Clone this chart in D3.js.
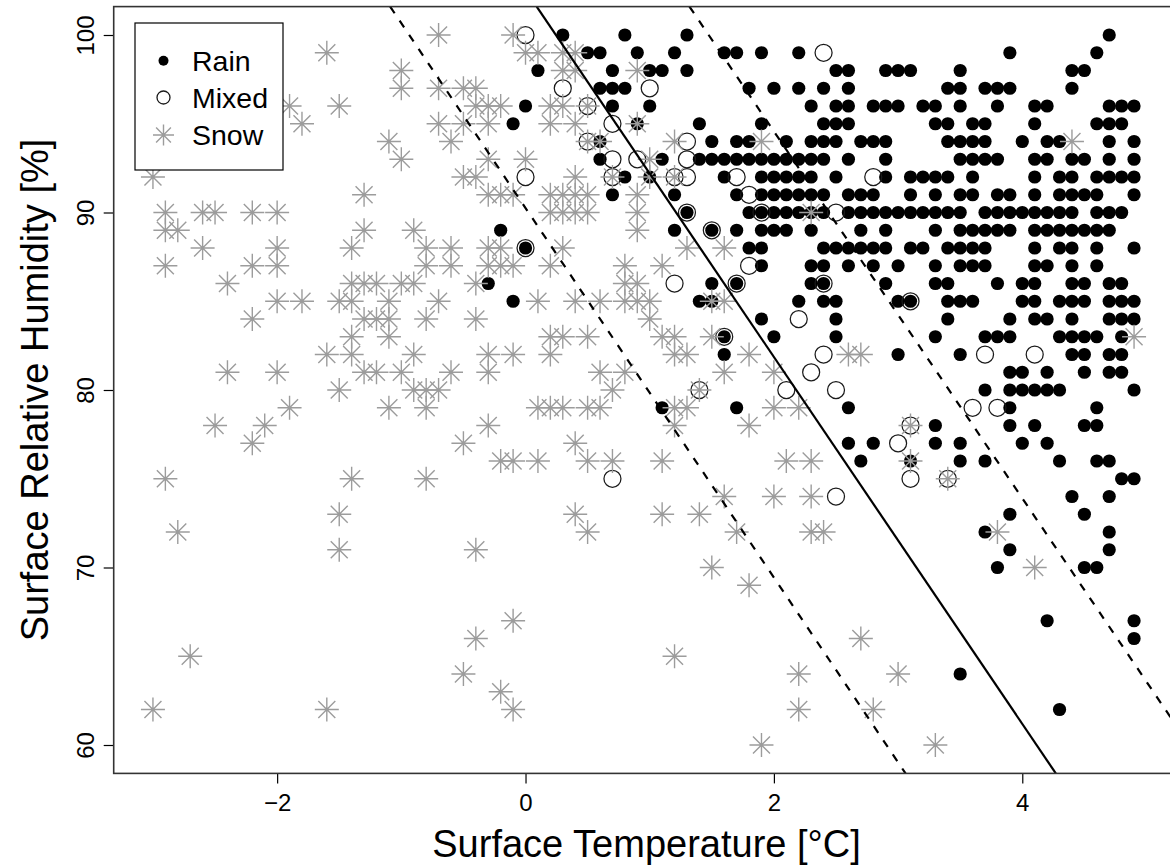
<!DOCTYPE html>
<html>
<head>
<meta charset="utf-8">
<script src="https://cdn.jsdelivr.net/npm/d3@7"></script>
<style>
  html, body { margin: 0; padding: 0; background: #fff; }
  svg { display: block; font-family: "Liberation Sans", Arial, sans-serif; }
</style>
</head>
<body>
<svg id="chart" width="1170" height="867"></svg>
<script>
// ---------------- data (RH row, temperatures at that RH) ----------------
const xTicks = [-2, 0, 2, 4];
const yTicks = [60, 70, 80, 90, 100];
const categories = ["Rain", "Mixed", "Snow"];

const rainRows = [
  [100, [0.3, 0.8, 1.3, 4.7]],
  [99, [0.5, 0.6, 0.9, 1.2, 1.6, 1.7, 1.9, 2.2, 3.9, 4.6]],
  [98, [0.1, 0.7, 1.0, 1.1, 1.3, 2.5, 2.6, 2.9, 3.0, 3.1, 3.5, 4.4, 4.5]],
  [97, [0.6, 0.7, 0.8, 1.8, 2.0, 2.2, 2.4, 2.6, 3.4, 3.5, 3.7, 3.8, 3.9, 4.4]],
  [96, [0.0, 0.7, 1.0, 2.3, 2.5, 2.6, 2.8, 2.9, 3.0, 3.2, 3.3, 3.5, 3.8, 4.1, 4.2, 4.7, 4.8, 4.9]],
  [95, [-0.1, 0.9, 1.4, 1.9, 2.4, 2.5, 2.6, 3.3, 3.4, 3.6, 3.7, 4.1, 4.6, 4.7, 4.8]],
  [94, [0.6, 1.5, 1.7, 1.8, 2.1, 2.3, 2.4, 2.5, 2.7, 2.8, 2.9, 3.4, 3.5, 3.6, 3.7, 4.0, 4.2, 4.3, 4.7, 4.9]],
  [93, [0.6, 1.1, 1.4, 1.5, 1.6, 1.7, 1.8, 1.9, 2.0, 2.1, 2.2, 2.3, 2.4, 2.6, 2.9, 3.5, 3.6, 3.7, 3.8, 4.1, 4.2, 4.4, 4.5, 4.7, 4.9]],
  [92, [0.8, 1.0, 1.6, 1.9, 2.0, 2.1, 2.2, 2.3, 2.5, 2.9, 3.1, 3.2, 3.3, 3.4, 3.6, 4.1, 4.3, 4.4, 4.6, 4.7, 4.8, 4.9]],
  [91, [0.7, 1.2, 1.7, 1.9, 2.0, 2.1, 2.2, 2.3, 2.4, 2.6, 2.7, 2.8, 3.1, 3.3, 3.5, 3.6, 3.8, 3.9, 4.1, 4.3, 4.4, 4.5, 4.6, 4.9]],
  [90, [1.3, 1.8, 1.9, 2.0, 2.1, 2.2, 2.3, 2.4, 2.6, 2.7, 2.8, 2.9, 3.0, 3.1, 3.2, 3.3, 3.4, 3.5, 3.7, 3.8, 3.9, 4.0, 4.1, 4.2, 4.3, 4.4, 4.6, 4.7, 4.8]],
  [89, [-0.2, 1.2, 1.5, 1.7, 1.9, 2.0, 2.1, 2.3, 2.7, 2.9, 3.3, 3.5, 3.6, 3.7, 3.8, 3.9, 4.1, 4.2, 4.3, 4.4, 4.5, 4.6, 4.7]],
  [88, [0.0, 1.8, 1.9, 2.4, 2.5, 2.6, 2.7, 2.8, 2.9, 3.1, 3.2, 3.4, 3.5, 3.6, 3.7, 4.1, 4.3, 4.4, 4.6, 4.9]],
  [87, [1.9, 2.3, 2.4, 2.6, 2.8, 3.0, 3.3, 3.5, 3.6, 3.7, 4.1, 4.2, 4.4, 4.6]],
  [86, [-0.3, 1.5, 1.7, 2.3, 2.4, 2.9, 3.3, 3.4, 3.8, 4.0, 4.1, 4.4, 4.5, 4.7, 4.8]],
  [85, [-0.1, 1.4, 1.5, 2.2, 2.4, 2.5, 3.0, 3.1, 3.4, 3.5, 3.6, 4.0, 4.1, 4.3, 4.4, 4.5, 4.7, 4.8, 4.9]],
  [84, [1.9, 2.5, 3.4, 3.9, 4.1, 4.2, 4.4, 4.7, 4.8, 4.9]],
  [83, [1.6, 2.0, 2.5, 3.3, 3.7, 3.8, 3.9, 4.3, 4.4, 4.5, 4.6, 4.8]],
  [82, [1.6, 3.0, 3.5, 4.4, 4.5, 4.7, 4.8]],
  [81, [3.9, 4.0, 4.2, 4.5, 4.7, 4.8]],
  [80, [3.7, 3.9, 4.0, 4.1, 4.2, 4.3, 4.9]],
  [79, [1.1, 1.7, 2.6, 3.9, 4.6]],
  [78, [3.3, 3.9, 4.1, 4.5, 4.6]],
  [77, [2.6, 2.8, 3.3, 3.5, 4.0, 4.2]],
  [76, [2.7, 3.1, 3.5, 3.7, 4.3, 4.6, 4.7]],
  [75, [4.8, 4.9]],
  [74, [4.4, 4.7]],
  [73, [3.9, 4.5]],
  [72, [3.7, 4.7]],
  [71, [3.9, 4.7]],
  [70, [3.8, 4.5, 4.6]],
  [67, [4.2, 4.9]],
  [66, [4.9]],
  [64, [3.5]],
  [62, [4.3]]
];

const mixedRows = [
  [100, [0.0]],
  [99, [2.4]],
  [97, [0.3, 1.0]],
  [96, [0.5]],
  [95, [0.7]],
  [94, [0.5, 1.3]],
  [93, [0.7, 0.9, 1.3]],
  [92, [0.0, 0.7, 1.2, 1.3, 1.7, 2.8]],
  [91, [1.8]],
  [90, [1.3, 1.9, 2.5]],
  [89, [1.5]],
  [88, [0.0]],
  [87, [1.8]],
  [86, [1.2, 1.7, 2.4]],
  [85, [3.1]],
  [84, [2.2]],
  [83, [1.6]],
  [82, [2.4, 3.7, 4.1]],
  [81, [2.3]],
  [80, [1.4, 2.1, 2.5]],
  [79, [3.6, 3.8]],
  [78, [3.1]],
  [77, [3.0]],
  [75, [0.7, 3.1, 3.4]],
  [74, [2.5]]
];

const snowRows = [
  [100, [-0.7, -0.1]],
  [99, [-1.6, 0.0, 0.1, 0.3, 0.4]],
  [98, [-1.0, 0.3, 0.4, 0.9]],
  [97, [-1.0, -0.7, -0.5, -0.4]],
  [96, [-1.9, -1.5, -0.4, -0.3, -0.2, 0.2, 0.3, 0.5]],
  [95, [-1.8, -0.7, -0.5, -0.3, 0.2, 0.4, 0.9]],
  [94, [-1.1, -0.6, 0.5, 0.6, 1.2, 1.9, 4.4]],
  [93, [-1.0, -0.3, 0.0, 1.0]],
  [92, [-3.0, -0.5, -0.4, 0.4, 0.7, 1.0, 1.2]],
  [91, [-1.3, -0.3, -0.2, -0.1, 0.2, 0.3, 0.4, 0.5, 0.9]],
  [90, [-2.9, -2.6, -2.5, -2.2, -2.0, 0.2, 0.3, 0.4, 0.5, 0.9, 2.3]],
  [89, [-2.9, -2.8, -1.3, -0.9, 0.9]],
  [88, [-2.6, -2.0, -1.4, -0.8, -0.6, -0.3, -0.2, 0.3, 1.3, 1.6]],
  [87, [-2.9, -2.2, -2.0, -0.8, -0.6, -0.3, -0.2, -0.1, 0.2, 0.8, 1.1]],
  [86, [-2.4, -1.4, -1.3, -1.2, -1.0, -0.9, -0.4, 0.8, 0.9]],
  [85, [-2.0, -1.8, -1.5, -1.4, -1.1, -0.7, 0.1, 0.4, 0.6, 0.8, 0.9, 1.0, 1.5, 1.6]],
  [84, [-2.2, -1.3, -1.2, -1.1, -0.8, -0.4, 1.0]],
  [83, [-1.4, -1.1, 0.2, 0.3, 0.5, 1.1, 1.2, 1.5, 4.9]],
  [82, [-1.6, -1.4, -0.9, -0.3, -0.1, 0.2, 1.2, 1.3, 1.8, 2.6, 2.7]],
  [81, [-2.4, -2.0, -1.3, -1.2, -1.0, -0.6, -0.3, 0.6, 0.8, 1.6, 2.0]],
  [80, [-1.5, -0.9, -0.8, -0.7, 0.7, 1.4]],
  [79, [-1.9, -1.1, -0.8, 0.1, 0.2, 0.3, 0.5, 0.6, 1.2, 1.3, 2.0, 2.2]],
  [78, [-2.5, -2.1, -0.3, 1.2, 1.8, 3.1]],
  [77, [-2.2, -0.5, 0.4]],
  [76, [-0.2, -0.1, 0.1, 0.5, 0.7, 1.1, 2.1, 2.3, 3.1]],
  [75, [-2.9, -1.4, -0.8, 3.4]],
  [74, [1.6, 2.0, 2.3]],
  [73, [-1.5, 0.4, 1.1, 1.4]],
  [72, [-2.8, 0.5, 1.7, 2.3, 2.4, 3.8]],
  [71, [-1.5, -0.4]],
  [70, [1.5, 4.1]],
  [69, [1.8]],
  [67, [-0.1]],
  [66, [-0.4, 2.7]],
  [65, [-2.7, 1.2]],
  [64, [-0.5, 2.2, 3.0]],
  [63, [-0.2]],
  [62, [-3.0, -1.6, -0.1, 2.2, 2.8]],
  [60, [1.9, 3.3]]
];

// separation lines, endpoints as [temperature, humidity]
const solidLine = [[0.09, 101.6], [4.27, 58.4]];
const dashedLower = [[-1.09, 101.6], [3.06, 58.4]];
const dashedUpper = [[1.32, 101.6], [5.50, 58.4]];

// ---------------- drawing ----------------
const svg = d3.select("#chart");
const plot = { left: 113.7, right: 1173.3, top: 6.6, bottom: 773.4 };

const x = d3.scaleLinear().domain([-3.316, 5.216]).range([plot.left, plot.right]);
const y = d3.scaleLinear().domain([58.4, 101.6]).range([plot.bottom, plot.top]);

const flat = rows => rows.flatMap(([rh, ts]) => ts.map(t => ({ t, rh })));
const rain = flat(rainRows), mixed = flat(mixedRows), snow = flat(snowRows);

svg.append("defs").append("clipPath").attr("id", "clip")
  .append("rect")
  .attr("x", plot.left).attr("y", plot.top)
  .attr("width", plot.right - plot.left).attr("height", plot.bottom - plot.top);

const SNOW = "#9c9c9c";
function asteriskPath(cx, cy, a, b) {
  return `M${cx - a},${cy}L${cx + a},${cy}M${cx},${cy - a}L${cx},${cy + a}` +
         `M${cx - b},${cy - b}L${cx + b},${cy + b}M${cx - b},${cy + b}L${cx + b},${cy - b}`;
}

const g = svg.append("g").attr("clip-path", "url(#clip)");

g.selectAll("circle.rain").data(rain).join("circle")
  .attr("class", "rain")
  .attr("cx", d => x(d.t)).attr("cy", d => y(d.rh))
  .attr("r", 6.6).attr("fill", "#000");

g.selectAll("circle.mixed").data(mixed).join("circle")
  .attr("class", "mixed")
  .attr("cx", d => x(d.t)).attr("cy", d => y(d.rh))
  .attr("r", 8.5).attr("fill", "none").attr("stroke", "#1a1a1a").attr("stroke-width", 1.25);

g.selectAll("path.snow").data(snow).join("path")
  .attr("class", "snow")
  .attr("d", d => asteriskPath(x(d.t), y(d.rh), 12, 8.5))
  .attr("fill", "none").attr("stroke", SNOW).attr("stroke-width", 1.4);

const line = d3.line().x(d => x(d[0])).y(d => y(d[1]));
g.append("path").datum(solidLine).attr("d", line)
  .attr("fill", "none").attr("stroke", "#000").attr("stroke-width", 2.2);
[dashedLower, dashedUpper].forEach(L => {
  g.append("path").datum(L).attr("d", line)
    .attr("fill", "none").attr("stroke", "#000").attr("stroke-width", 2.2)
    .attr("stroke-dasharray", "8,9");
});

// axes
const fmt = d => (d < 0 ? "\u2212" + Math.abs(d) : String(d));
const xAxis = svg.append("g").attr("transform", `translate(0,${plot.bottom})`)
  .call(d3.axisBottom(x).tickValues(xTicks).tickSize(10).tickFormat(fmt));
xAxis.select(".domain").remove();
xAxis.selectAll(".tick line").attr("stroke", "#000").attr("stroke-width", 1.2);
xAxis.selectAll(".tick text").attr("y", 38).attr("dy", 0)
  .attr("font-size", 24).attr("fill", "#000")
  .attr("font-family", '"Liberation Sans", Arial, sans-serif');

const yAxis = svg.append("g").attr("transform", `translate(${plot.left},0)`)
  .call(d3.axisLeft(y).tickValues(yTicks).tickSize(10));
yAxis.select(".domain").remove();
yAxis.selectAll(".tick line").attr("stroke", "#000").attr("stroke-width", 1.2);
yAxis.selectAll(".tick text")
  .attr("transform", "rotate(-90)")
  .attr("x", 0).attr("y", -20).attr("dy", 0)
  .attr("text-anchor", "middle")
  .attr("font-size", 24).attr("fill", "#000")
  .attr("font-family", '"Liberation Sans", Arial, sans-serif');

// frame
svg.append("rect")
  .attr("x", plot.left).attr("y", plot.top)
  .attr("width", plot.right - plot.left).attr("height", plot.bottom - plot.top)
  .attr("fill", "none").attr("stroke", "#333").attr("stroke-width", 1.6);

// axis titles
svg.append("text")
  .attr("x", (plot.left + plot.right) / 2 + 3).attr("y", 857)
  .attr("text-anchor", "middle").attr("font-size", 38).attr("fill", "#000")
  .text("Surface Temperature [°C]");
svg.append("text")
  .attr("transform", `translate(48,${(plot.top + plot.bottom) / 2}) rotate(-90)`)
  .attr("text-anchor", "middle").attr("font-size", 38).attr("fill", "#000")
  .text("Surface Relative Humidity [%]");

// legend
const leg = svg.append("g");
leg.append("rect").attr("x", 135).attr("y", 23).attr("width", 148).attr("height", 147)
  .attr("fill", "#fff").attr("stroke", "#000").attr("stroke-width", 1.2);
const rowsY = [60.7, 97.5, 135];
const sx = 163.5;
leg.append("circle").attr("cx", sx).attr("cy", rowsY[0]).attr("r", 5).attr("fill", "#000");
leg.append("circle").attr("cx", sx).attr("cy", rowsY[1]).attr("r", 6.5)
  .attr("fill", "none").attr("stroke", "#1a1a1a").attr("stroke-width", 1.3);
leg.append("path").attr("d", asteriskPath(sx, rowsY[2], 10.5, 7.4))
  .attr("fill", "none").attr("stroke", SNOW).attr("stroke-width", 1.4);
leg.selectAll("text.lab").data(categories).join("text")
  .attr("class", "lab")
  .attr("x", 192).attr("y", (d, i) => rowsY[i] + 10)
  .attr("font-size", 28.5).attr("fill", "#000")
  .text(d => d);
</script>
</body>
</html>
